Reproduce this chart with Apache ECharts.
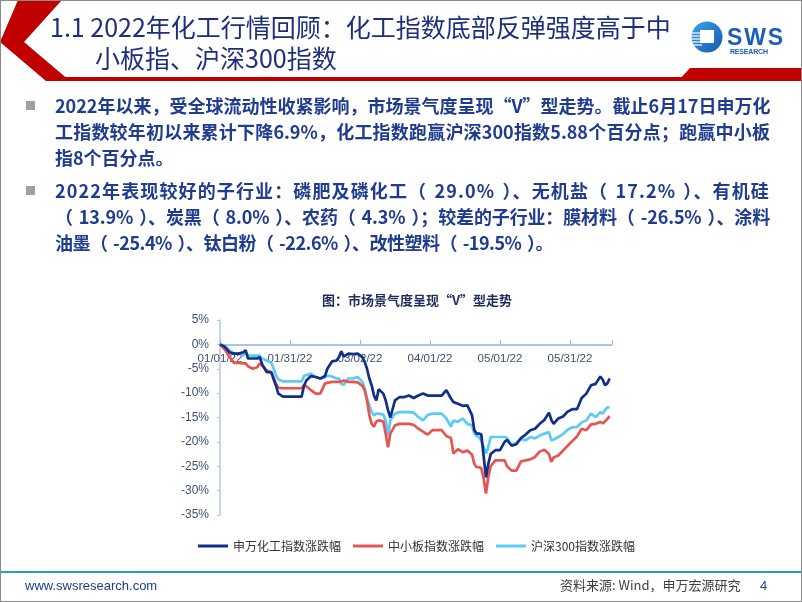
<!DOCTYPE html>
<html>
<head>
<meta charset="utf-8">
<script src="https://cdn.jsdelivr.net/npm/echarts@6/dist/echarts.min.js"></script>
<style>
  html, body { margin: 0; padding: 0; background: #fff; }
  #chart { position: absolute; left: 0; top: 0; width: 802px; height: 602px; }
  #frame { position: absolute; left: 0; top: 0; width: 802px; height: 602px; box-sizing: border-box; border: 1px solid #8a8a8a; pointer-events: none; }
  .cn { font-family: "Noto Sans CJK SC", sans-serif; }
  .title { position: absolute; color: #1d2f7c; font-size: 25px; line-height: 25px; white-space: nowrap; }
  .bullet { position: absolute; left: 26px; width: 9px; height: 9px; background: #a0a0a0; }
  .line { position: absolute; left: 55px; color: #1f3c8f; font-size: 18px; font-weight: bold; line-height: 26px; height: 26px; white-space: pre; }
  .ic { text-align: justify; text-align-last: justify; text-justify: inter-character; }
  .fit { word-spacing: 2px; }
  .foot { position: absolute; font-size: 13px; line-height: 13px; white-space: nowrap; }
</style>
</head>
<body>
<div id="chart"></div>

<!-- 页眉装饰 -->
<svg style="position:absolute;left:0;top:0" width="802" height="90">
  <polygon points="18,0 62,0 24,42 70,81 46,81 0,42" fill="#c00000"/>
  <rect x="46" y="77" width="640" height="4" fill="#c00000"/>
  <polygon points="690,68 802,68 802,81 678,81" fill="#c00000"/>
  <defs>
    <linearGradient id="lg" x1="0" y1="0" x2="1" y2="1">
      <stop offset="0" stop-color="#3aa6e8"/>
      <stop offset="1" stop-color="#1557b0"/>
    </linearGradient>
  </defs>
  <circle cx="707" cy="37" r="15.5" fill="url(#lg)"/>
  <g stroke="#fff" stroke-width="1.2">
    <line x1="690" y1="33" x2="702" y2="33"/>
    <line x1="690" y1="36" x2="702" y2="36"/>
    <line x1="690" y1="39" x2="702" y2="39"/>
    <line x1="690" y1="42" x2="702" y2="42"/>
    <line x1="690" y1="45" x2="702" y2="45"/>
  </g>
  <rect x="700" y="30" width="14" height="13" fill="#fff"/>
  <text x="727" y="45" font-family="Liberation Sans, Arial" font-weight="bold" font-size="23" fill="#1d5cb8" textLength="56">SWS</text>
  <text x="730" y="53.5" font-family="Liberation Sans, Arial" font-weight="bold" font-size="7" fill="#1d5cb8" textLength="38">RESEARCH</text>
</svg>

<div class="title cn" style="left:50px;top:14px;">1.1 2022年化工行情回顾：化工指数底部反弹强度高于中</div>
<div class="title cn" style="left:95px;top:45px;">小板指、沪深300指数</div>

<div class="bullet" style="top:101px;"></div>
<div class="line cn ic" style="top:92px;width:715px;">2022年以来，受全球流动性收紧影响，市场景气度呈现“V”型走势。截止6月17日申万化</div>
<div class="line cn ic" style="top:118px;width:715px;">工指数较年初以来累计下降6.9%，化工指数跑赢沪深300指数5.88个百分点；跑赢中小板</div>
<div class="line cn" style="top:144px;">指8个百分点。</div>
<div class="bullet" style="top:186px;"></div>
<div class="line cn fit" data-w="715" style="top:177px;">2022年表现较好的子行业：磷肥及磷化工（ 29.0% ）、无机盐（ 17.2% ）、有机硅</div>
<div class="line cn fit" data-w="715" style="top:203px;">（ 13.9% ）、炭黑（ 8.0% ）、农药（ 4.3% ）；较差的子行业：膜材料（ -26.5% ）、涂料</div>
<div class="line cn fit" data-w="498" style="top:229px;">油墨（ -25.4% ）、钛白粉（ -22.6% ）、改性塑料（ -19.5% ）。</div>

<!-- 页脚 -->
<div style="position:absolute;left:0;top:571px;width:802px;height:2px;background:#2b9bc9;"></div>
<div class="foot" style="left:25px;top:579px;color:#1f3c8f;font-family:'Liberation Sans',Arial;">www.swsresearch.com</div>
<div class="foot cn" style="left:560px;top:578px;color:#404040;">资料来源: Wind，申万宏源研究</div>
<div class="foot" style="left:760px;top:579px;color:#1f3c8f;font-family:'Liberation Sans',Arial;">4</div>

<div id="frame"></div>

<script>
// 按参考图的行宽补齐字距
document.querySelectorAll('.fit').forEach(function (el) {
  var target = +el.getAttribute('data-w')
  var natural = el.getBoundingClientRect().width
  var n = el.textContent.length
  el.style.letterSpacing = ((target - natural) / n) + 'px'
})

// 横轴：距 2022-01-01 的天数
var days = [0, 2, 4, 6, 8, 10, 11, 12, 14, 16, 17, 18, 20, 22, 23, 24, 25, 27, 30, 33,
  35, 36, 37, 39, 41, 43, 45, 46, 48, 50, 51, 52, 53, 55, 57, 59, 61, 62, 63, 64,
  65, 66, 67, 68, 70, 71, 72, 73, 75, 77, 79, 81, 83, 85, 87, 89, 91, 93, 95, 97,
  99, 100, 102, 104, 106, 108, 109, 110, 111, 112, 113, 114, 115, 116, 118, 120, 122, 123, 125, 127,
  129, 131, 133, 135, 137, 139, 141, 142, 143, 145, 147, 149, 151, 153, 155, 157, 159, 161, 163, 164,
  165, 166, 167]

// 申万化工指数涨跌幅 (%)
var chemIdx = [0, -0.5, -1.6, -1.9, -1.9, -1.6, -1.2, -2.9, -2.9, -2.9, -2.6, -4.0, -5.7, -5.7, -7.2, -8.5, -10.1, -10.7, -10.7, -10.7,
  -10.7, -8.5, -7.4, -6.5, -6.7, -7.0, -6.5, -5.0, -3.5, -3.3, -2.6, -1.4, -2.5, -1.9, -2.0, -1.9, -2.6, -3.6, -5.0, -7.0,
  -8.4, -10.5, -11.5, -9.2, -10.1, -11.5, -13.5, -15.0, -11.5, -10.8, -10.8, -10.5, -11.0, -10.5, -10.1, -10.5, -10.5, -10.5, -10.5, -9.4,
  -11.1, -11.8, -12.2, -12.6, -12.5, -14.5, -17.6, -18.3, -18.3, -18.5, -23.0, -27.3, -24.5, -22.5, -21.7, -21.7, -20.0, -19.6, -20.8, -20.5,
  -19.2, -18.5, -17.6, -17.3, -16.3, -15.5, -14.0, -15.5, -16.3, -15.2, -14.8, -13.8, -13.3, -13.3, -11.0, -10.1, -8.4, -8.1, -6.6, -7.2,
  -8.4, -8.0, -7.0]

// 中小板指数涨跌幅 (%)
var smeIdx = [0, -1.0, -2.5, -3.8, -3.8, -3.9, -3.9, -4.5, -5.0, -4.7, -3.9, -4.4, -5.3, -5.8, -6.8, -8.1, -8.9, -9.0, -9.0, -9.0,
  -9.0, -8.4, -8.6, -9.4, -10.1, -10.1, -8.0, -7.9, -7.7, -7.7, -7.7, -7.6, -7.4, -7.7, -7.7, -7.8, -8.5, -9.4, -11.5, -14.5,
  -16.3, -16.9, -15.8, -15.6, -15.8, -18.3, -21.1, -18.3, -16.6, -16.3, -16.3, -16.3, -16.5, -17.3, -17.9, -18.5, -17.6, -17.6, -17.6, -18.8,
  -19.2, -22.4, -21.5, -22.1, -21.8, -22.6, -24.5, -25.2, -25.2, -25.4, -27.5, -30.6, -27.2, -25.0, -23.8, -23.8, -23.8, -25.0, -25.9, -25.9,
  -24.0, -23.8, -23.6, -23.1, -22.0, -21.6, -22.5, -24.1, -23.2, -22.8, -21.8, -20.8, -19.8, -18.9, -17.3, -17.6, -16.4, -16.3, -15.9, -16.2,
  -15.8, -15.3, -14.7]

// 沪深300指数涨跌幅 (%)
var hs300Idx = [0, -0.3, -1.2, -1.9, -1.9, -2.3, -1.6, -2.3, -2.3, -2.3, -2.3, -2.9, -3.3, -3.8, -5.0, -6.3, -7.2, -7.6, -7.6, -7.6,
  -7.6, -6.5, -6.3, -6.0, -6.7, -7.0, -6.8, -6.4, -6.6, -7.0, -7.0, -8.1, -8.3, -7.0, -7.0, -6.7, -7.7, -9.0, -11.1, -12.5,
  -13.9, -14.6, -14.2, -14.2, -14.4, -15.6, -18.7, -15.6, -14.2, -13.9, -13.9, -13.9, -14.0, -14.9, -15.6, -14.5, -14.2, -14.2, -14.2, -15.2,
  -16.9, -15.6, -15.9, -15.2, -16.3, -16.6, -18.3, -18.8, -19.0, -19.8, -21.0, -22.4, -21.0, -19.0, -19.0, -19.0, -19.0, -19.2, -20.7, -20.2,
  -19.4, -19.7, -19.0, -19.3, -18.7, -18.3, -18.0, -19.7, -19.5, -19.0, -18.4, -17.5, -17.0, -17.0, -16.0, -15.6, -14.2, -14.9, -13.9, -14.2,
  -13.5, -12.9, -13.0]

var dateLabels = ['01/01/22', '01/31/22', '03/02/22', '04/01/22', '05/01/22', '05/31/22']
var seriesNames = ['申万化工指数涨跌幅', '中小板指数涨跌幅', '沪深300指数涨跌幅']
var seriesColors = ['#122f88', '#e8554f', '#5ccaf5']

function pairs (vals) {
  return days.map(function (d, i) { return [d, vals[i]] })
}

var gridTop = 320
var gridHeight = 195
var yMin = -35
var yMax = 5
// 横轴压在 0% 处：从底部上移
var zeroShift = gridHeight * (0 - yMin) / (yMax - yMin)

var myChart = echarts.init(document.getElementById('chart'))
var option = {
  animation: false,
  title: {
    text: '图：市场景气度呈现“V”型走势',
    left: 412,
    textAlign: 'center',
    top: 289,
    textStyle: { fontFamily: 'Noto Sans CJK SC', fontSize: 13, fontWeight: 'bold', color: '#1f2d5c' }
  },
  grid: { left: 220, top: gridTop, width: 392, height: gridHeight },
  legend: {
    left: 193,
    top: 535,
    itemWidth: 30,
    itemHeight: 3,
    itemGap: 12,
    icon: 'rect',
    data: seriesNames,
    textStyle: { fontFamily: 'Noto Sans CJK SC', fontSize: 12, color: '#333' }
  },
  xAxis: {
    type: 'value',
    min: 0,
    max: 168,
    interval: 30,
    position: 'bottom',
    offset: -zeroShift,
    axisLine: { onZero: false, lineStyle: { color: '#8fb3df', width: 1.5 } },
    axisTick: { show: true, inside: true, length: 4, lineStyle: { color: '#8fb3df' } },
    splitLine: { show: false },
    axisLabel: {
      margin: 8,
      fontFamily: 'Liberation Sans',
      fontSize: 11.5,
      color: '#3f4f70',
      formatter: function (v) { return v % 30 === 0 ? (dateLabels[v / 30] || '') : '' }
    }
  },
  yAxis: {
    type: 'value',
    min: yMin,
    max: yMax,
    interval: 5,
    axisLine: { show: true, onZero: false, lineStyle: { color: '#b4c7e7', width: 1.5 } },
    axisTick: { show: true, length: 3, lineStyle: { color: '#b4c7e7' } },
    splitLine: { show: false },
    axisLabel: {
      margin: 11,
      fontFamily: 'Liberation Sans',
      fontSize: 12,
      color: '#3f4f70',
      formatter: '{value}%'
    }
  },
  series: [chemIdx, smeIdx, hs300Idx].map(function (vals, i) {
    return {
      name: seriesNames[i],
      type: 'line',
      data: pairs(vals),
      showSymbol: false,
      color: seriesColors[i],
      lineStyle: { width: 2.7, color: seriesColors[i] },
      z: 3 - i
    }
  })
}
myChart.setOption(option)
</script>
</body>
</html>
